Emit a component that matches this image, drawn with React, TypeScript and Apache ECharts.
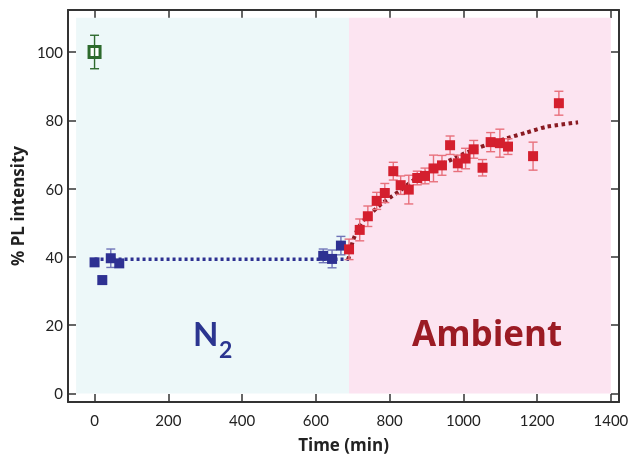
import React, { useEffect, useRef } from "react";
import * as echarts from "echarts";

const X_TICKS = [0, 200, 400, 600, 800, 1000, 1200, 1400];
const Y_TICKS = [0, 20, 40, 60, 80, 100];

const GREEN_X = [0];
const GREEN_Y = [100];
const GREEN_ERR = [4.9];

const N2_X = [0, 21, 44, 67, 620, 644, 668];
const N2_Y = [38.4, 33.2, 39.6, 38.1, 40.3, 39.4, 43.3];
const N2_ERR = [1, 1.2, 2.7, 1, 2, 2.6, 2.7];

const AMB_X = [690, 719, 741, 765, 787, 810, 830, 852, 875, 896, 919, 942, 964, 985, 1006, 1028, 1052, 1074, 1099, 1121, 1189, 1259];
const AMB_Y = [42.2, 47.9, 51.9, 56.4, 58.7, 65.1, 61.0, 59.7, 63.1, 63.7, 65.9, 66.8, 72.7, 67.4, 68.8, 71.5, 66.1, 73.6, 73.3, 72.3, 69.5, 85.0];
const AMB_ERR = [3, 3.2, 3, 2.5, 2.8, 2.6, 2.7, 4.2, 2, 2.3, 3.9, 2.9, 2.7, 2.4, 3, 2.6, 2.4, 2.8, 4.1, 2.3, 4.1, 3.5];

const N2_FIT_X = [0, 690];
const N2_FIT_Y = [39.3, 39.3];

const AMB_FIT_X = [688, 700, 715, 730, 755, 780, 807, 830, 865, 900, 935, 970, 1000, 1063, 1117, 1171, 1225, 1311];
const AMB_FIT_Y = [39.2, 44.5, 48.5, 50.8, 53.3, 55.7, 57.8, 59.5, 62.5, 64.8, 66.8, 68.6, 70.2, 72.8, 74.7, 76.4, 78.1, 79.4];

const REGIONS = [
  { from: -50, to: 690, color: "#edf8f9" },
  { from: 690, to: 1400, color: "#fce4f1" },
];
const REGION_TOP = 110;

const FONT = "Lato";
const TITLE_FONT = "Open Sans";
const AXIS_COLOR = "#333333";

const zip = (xs: number[], ys: number[], es?: number[]) =>
  xs.map((x, i) => (es ? [x, ys[i], es[i]] : [x, ys[i]]));

function errorSeries(data: number[][], color: string, z: number) {
  return {
    type: "custom",
    z,
    silent: true,
    data,
    renderItem: (params: any, api: any) => {
      const x = api.value(0);
      const y = api.value(1);
      const e = api.value(2);
      const t = api.coord([x, y + e]);
      const b = api.coord([x, y - e]);
      const hw = 4.5;
      const style = { stroke: color, lineWidth: 1.4 };
      return {
        type: "group",
        children: [
          { type: "line", shape: { x1: t[0], y1: t[1], x2: b[0], y2: b[1] }, style },
          { type: "line", shape: { x1: t[0] - hw, y1: t[1], x2: t[0] + hw, y2: t[1] }, style },
          { type: "line", shape: { x1: b[0] - hw, y1: b[1], x2: b[0] + hw, y2: b[1] }, style },
        ],
      };
    },
  };
}

export default function App() {
  const ref = useRef<HTMLDivElement>(null);
  useEffect(() => {
    if (!ref.current) return;
    const chart = echarts.init(ref.current, null, { renderer: "svg" });
    const axisLine = { show: true, onZero: false, lineStyle: { color: AXIS_COLOR, width: 2 } };
    const xTick = { show: true, inside: true, length: 8, customValues: X_TICKS, lineStyle: { color: AXIS_COLOR, width: 1.5 } };
    const yTick = { show: true, inside: true, length: 8, customValues: Y_TICKS, lineStyle: { color: AXIS_COLOR, width: 1.5 } };
    const xCommon = { type: "value", min: -72, max: 1422, splitLine: { show: false } };
    const yCommon = { type: "value", min: -2.5, max: 112.3, splitLine: { show: false } };
    chart.setOption({
      animation: false,
      grid: { left: 68, right: 14, top: 10, bottom: 54, outerBoundsMode: "none", containLabel: false },
      xAxis: [
        {
          ...xCommon,
          position: "bottom",
          axisLine,
          axisTick: xTick,
          axisLabel: {
            customValues: X_TICKS,
            formatter: (v: number) => String(v),
            fontSize: 15,
            color: "#222",
            margin: 10,
            fontFamily: FONT,
          },
          name: "Time (min)",
          nameLocation: "middle",
          nameGap: 34,
          nameTextStyle: { fontWeight: "bold", fontSize: 17, color: "#222", fontFamily: TITLE_FONT },
        },
        { ...xCommon, position: "top", axisLine, axisTick: xTick, axisLabel: { show: false } },
      ],
      yAxis: [
        {
          ...yCommon,
          position: "left",
          axisLine,
          axisTick: yTick,
          axisLabel: {
            customValues: Y_TICKS,
            formatter: (v: number) => String(v),
            fontSize: 15,
            color: "#222",
            margin: 5,
            fontFamily: FONT,
          },
          name: "% PL intensity",
          nameLocation: "middle",
          nameGap: 30,
          nameTextStyle: { fontWeight: "bold", fontSize: 17, color: "#222", fontFamily: TITLE_FONT },
        },
        { ...yCommon, position: "right", axisLine, axisTick: yTick, axisLabel: { show: false } },
      ],
      graphic: [
        {
          type: "text",
          left: 193,
          top: 316,
          z: 100,
          style: { text: "N", fontSize: 33, fontWeight: "bold", fill: "#2b3590", fontFamily: FONT },
        },
        {
          type: "text",
          left: 219,
          top: 337,
          z: 100,
          style: { text: "2", fontSize: 23, fontWeight: "bold", fill: "#2b3590", fontFamily: FONT },
        },
        {
          type: "text",
          left: 412,
          top: 315,
          z: 100,
          style: { text: "Ambient", fontSize: 35, fontWeight: "bold", fill: "#9b1b24", fontFamily: TITLE_FONT },
        },
      ],
      series: [
        {
          type: "line",
          data: [],
          silent: true,
          z: 1,
          markArea: {
            silent: true,
            data: REGIONS.map((r) => [
              { xAxis: r.from, yAxis: 0, itemStyle: { color: r.color } },
              { xAxis: r.to, yAxis: REGION_TOP },
            ]),
          },
        },
        {
          type: "line",
          data: zip(N2_FIT_X, N2_FIT_Y),
          showSymbol: false,
          symbol: "none",
          z: 3,
          lineStyle: { color: "#2e3192", width: 3.5, type: [3, 3], cap: "butt" },
        },
        {
          type: "line",
          data: zip(AMB_FIT_X, AMB_FIT_Y),
          smooth: 0.2,
          showSymbol: false,
          symbol: "none",
          z: 3,
          lineStyle: { color: "#8a1a22", width: 4, type: [3.5, 3.5], cap: "butt" },
        },
        errorSeries(zip(N2_X, N2_Y, N2_ERR), "#6f74b8", 4),
        errorSeries(zip(AMB_X, AMB_Y, AMB_ERR), "#e8707c", 4),
        {
          type: "scatter",
          data: zip(N2_X, N2_Y),
          symbol: "rect",
          symbolSize: 10,
          z: 5,
          itemStyle: { color: "#2e3192", opacity: 1 },
        },
        {
          type: "scatter",
          data: zip(AMB_X, AMB_Y),
          symbol: "rect",
          symbolSize: 10,
          z: 5,
          itemStyle: { color: "#d41f2e", opacity: 1 },
        },
        {
          type: "scatter",
          data: zip(GREEN_X, GREEN_Y),
          symbol: "rect",
          symbolSize: 11,
          z: 5,
          itemStyle: { color: "#ffffff", borderColor: "#2d6a2d", borderWidth: 3, opacity: 1 },
        },
        errorSeries(zip(GREEN_X, GREEN_Y, GREEN_ERR), "#2d6a2d", 6),
      ],
    });
    return () => chart.dispose();
  }, []);
  return <div ref={ref} style={{ position: "fixed", left: 0, top: 0, width: 633, height: 456 }} />;
}
